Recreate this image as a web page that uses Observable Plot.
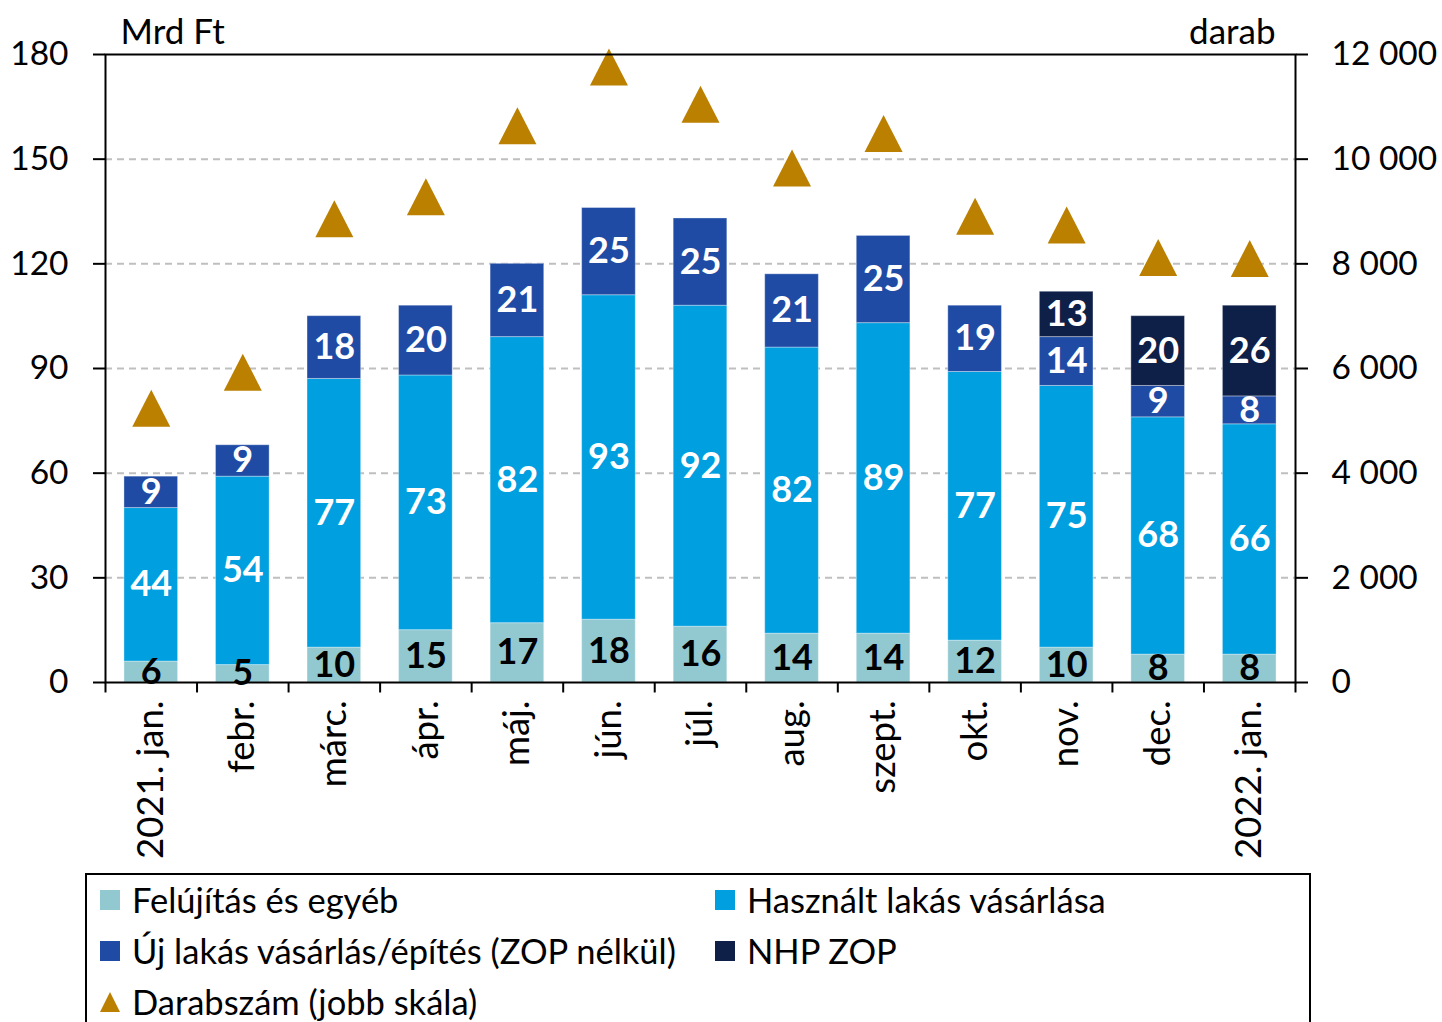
<!DOCTYPE html>
<html>
<head>
<meta charset="utf-8">
<script src="https://cdn.jsdelivr.net/npm/d3@7"></script>
<script src="https://cdn.jsdelivr.net/npm/@observablehq/plot@0.6"></script>
<style>
  html, body { margin: 0; padding: 0; background: white; }
  body { width: 1442px; height: 1022px; position: relative; overflow: hidden; font-family: Lato, "Open Sans", sans-serif; }
  #chart { position: absolute; left: 0; top: 0; }
  #legend { position: absolute; left: 85px; top: 873px; width: 1226px; height: 160px; border: 2px solid #000; box-sizing: border-box; }
  .item { position: absolute; display: flex; align-items: center; font-size: 34.5px; color: #000; white-space: nowrap; line-height: 1; }
  .sw { width: 20px; height: 20px; margin-right: 12px; display: inline-block; }
  .tri { width: 0; height: 0; border-left: 10px solid transparent; border-right: 10px solid transparent; border-bottom: 20px solid #BB8000; margin-right: 12px; display: inline-block; }
</style>
</head>
<body>
<div id="chart"></div>
<div id="legend"></div>
<script>
const months = ["2021. jan.","febr.","márc.","ápr.","máj.","jún.","júl.","aug.","szept.","okt.","nov.","dec.","2022. jan."];
const seriesNames = ["Felújítás és egyéb","Használt lakás vásárlása","Új lakás vásárlás/építés (ZOP nélkül)","NHP ZOP"];
const seriesColors = ["#92C9D1","#009FDF","#1F4BA5","#0E1F48"];
const felujitas = [6,5,10,15,17,18,16,14,14,12,10,8,8];
const hasznalt = [44,54,77,73,82,93,92,82,89,77,75,68,66];
const uj = [9,9,18,20,21,25,25,21,25,19,14,9,8];
const nhpZop = [0,0,0,0,0,0,0,0,0,0,13,20,26];
const darab = [5240,5930,8860,9280,10640,11760,11050,9830,10490,8910,8740,8120,8100];
const leftTicks = [0,30,60,90,120,150,180];
const rightTicks = [0,2000,4000,6000,8000,10000,12000];
const leftMax = 180, rightMax = 12000;

const seriesValues = [felujitas, hasznalt, uj, nhpZop];
const long = [];
months.forEach((m, i) => {
  seriesValues.forEach((arr, s) => {
    if (arr[i] > 0) long.push({month: m, series: seriesNames[s], value: arr[i]});
  });
});
const counts = months.map((m, i) => ({month: m, darab: darab[i]}));

const loc = d3.formatLocale({decimal: ",", thousands: " ", grouping: [3], currency: ["", ""]});
const fmt = loc.format(",d");

const triangle = {
  draw(context) {
    context.moveTo(0, -18.5);
    context.lineTo(19, 18.5);
    context.lineTo(-19, 18.5);
    context.closePath();
  }
};

const W = 1442, H = 873;
const mL = 105, mR = 147, mT = 54, mB = 191;
const step = (W - mL - mR) / months.length;

const chart = Plot.plot({
  width: W, height: H,
  marginLeft: mL, marginRight: mR, marginTop: mT, marginBottom: mB,
  style: {fontFamily: "Lato, 'Open Sans', sans-serif", fontSize: "33.5px", color: "#000", background: "white", overflow: "visible"},
  x: {domain: months, paddingInner: 0.414, paddingOuter: 0.207, round: false, label: null, axis: null},
  y: {domain: [0, leftMax], label: null, axis: null},
  color: {domain: seriesNames, range: seriesColors},
  marks: [
    Plot.gridY(leftTicks.filter(t => t > 0 && t < leftMax), {stroke: "#BFBFBF", strokeOpacity: 1, strokeWidth: 2, strokeDasharray: "7,5"}),
    Plot.barY(long, {x: "month", y: "value", z: "series", fill: "series", stroke: "white", strokeOpacity: 0.35, strokeWidth: 1}),
    Plot.text(long, Plot.stackY({x: "month", y: "value", z: "series", text: d => d.series === seriesNames[0] ? String(d.value) : null, fill: "#000", fontWeight: "bold", fontSize: 36})),
    Plot.text(long, Plot.stackY({x: "month", y: "value", z: "series", text: d => d.series !== seriesNames[0] ? String(d.value) : null, fill: "#fff", fontWeight: "bold", fontSize: 36})),
    Plot.dot(counts, {x: "month", y: d => d.darab / rightMax * leftMax, symbol: triangle, r: 10, fill: "#BB8000", stroke: null}),
    Plot.frame({stroke: "#000", strokeWidth: 2}),
    Plot.ruleX(months, {x: d => d, dx: -step / 2, y1: 0, y2: -3, stroke: "#000", strokeWidth: 2}),
    Plot.ruleX(months.slice(-1), {x: d => d, dx: step / 2, y1: 0, y2: -3, stroke: "#000", strokeWidth: 2}),
    Plot.axisY(leftTicks, {anchor: "left", tickSize: 12, tickPadding: 25, strokeWidth: 2, label: null}),
    Plot.axisY(leftTicks, {anchor: "right", tickSize: 12, tickPadding: 24, strokeWidth: 2, label: null,
      tickFormat: d => fmt(rightTicks[leftTicks.indexOf(d)])}),
    Plot.axisX({tickSize: 0, tickRotate: -90, tickPadding: 18, label: null, fontSize: 36.5}),
    Plot.text(["Mrd Ft"], {frameAnchor: "top-left", textAnchor: "start", lineAnchor: "bottom", dx: 15, dy: -11, fontSize: 35}),
    Plot.text(["darab"], {frameAnchor: "top-right", textAnchor: "end", lineAnchor: "bottom", dx: -20, dy: -11, fontSize: 35})
  ]
});
document.getElementById("chart").appendChild(chart);

const legendItems = [
  {label: seriesNames[0], color: seriesColors[0], left: 13, top: 25},
  {label: seriesNames[1], color: seriesColors[1], left: 628, top: 25},
  {label: seriesNames[2], color: seriesColors[2], left: 13, top: 76},
  {label: seriesNames[3], color: seriesColors[3], left: 628, top: 76},
  {label: "Darabszám (jobb skála)", tri: true, left: 13, top: 127}
];
const lg = document.getElementById("legend");
legendItems.forEach(it => {
  const div = document.createElement("div");
  div.className = "item";
  div.style.left = it.left + "px";
  div.style.top = (it.top - 18) + "px";
  div.style.height = "36px";
  const sw = document.createElement("span");
  if (it.tri) { sw.className = "tri"; } else { sw.className = "sw"; sw.style.background = it.color; }
  div.appendChild(sw);
  const t = document.createElement("span");
  t.textContent = it.label;
  div.appendChild(t);
  lg.appendChild(div);
});
</script>
</body>
</html>
